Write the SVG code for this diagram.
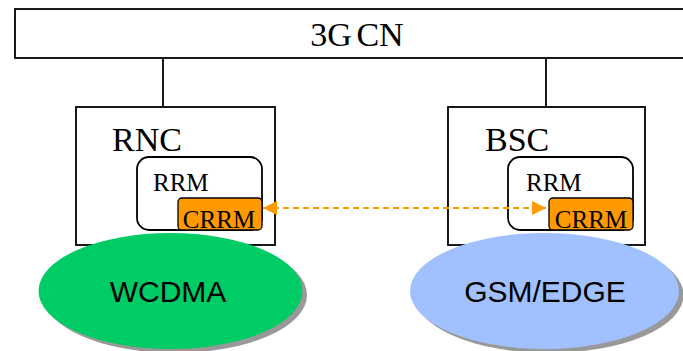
<svg xmlns="http://www.w3.org/2000/svg" width="683" height="351" viewBox="0 0 683 351">
<style>
.box{fill:#fff;stroke:#000;stroke-width:1.8}
.serif{font-family:"Liberation Serif","Times New Roman",serif;fill:#000}
.sans{font-family:"Liberation Sans",Arial,sans-serif;fill:#000}
.crrm{fill:#FF9900;stroke:#000;stroke-width:1.3}
.link{stroke:#000;stroke-width:1.8;fill:none}
.shadow{fill:#999}
</style>
<defs>
<marker id="ah" viewBox="0 0 10 10" refX="10" refY="5" markerWidth="16" markerHeight="14" markerUnits="userSpaceOnUse" orient="auto-start-reverse">
<path d="M0,0 L10,5 L0,10 Z" fill="#FF9900"/>
</marker>
</defs>
<g id="cn">
<rect class="box" x="15" y="9" width="680" height="49"/>
<text class="serif" x="357" y="46" font-size="34" text-anchor="middle" word-spacing="-4">3G CN</text>
</g>
<g id="connectors">
<line class="link" x1="163" y1="58" x2="163" y2="107"/>
<line class="link" x1="546" y1="58" x2="546" y2="107"/>
</g>
<g id="rnc">
<rect class="box" x="76" y="107" width="199" height="138"/>
<text class="serif" x="112" y="151" font-size="34">RNC</text>
<rect class="box" x="137" y="157" width="125" height="73" rx="12"/>
<text class="serif" x="153" y="191" font-size="25">RRM</text>
</g>
<g id="rnc-crrm">
<rect class="crrm" x="178" y="198" width="84" height="32" rx="4"/>
<text class="serif" x="219" y="228" font-size="25" text-anchor="middle">CRRM</text>
</g>
<g id="bsc">
<rect class="box" x="448" y="107" width="197" height="138"/>
<text class="serif" x="485" y="151" font-size="34">BSC</text>
<rect class="box" x="508" y="157" width="125" height="73" rx="12"/>
<text class="serif" x="526" y="191" font-size="25">RRM</text>
</g>
<g id="bsc-crrm">
<rect class="crrm" x="549" y="198" width="84" height="32" rx="4"/>
<text class="serif" x="591" y="228" font-size="25" text-anchor="middle">CRRM</text>
</g>
<g id="arrows">
<line x1="263" y1="208" x2="546" y2="208" stroke="#FF9900" stroke-width="2" stroke-dasharray="6,4" marker-start="url(#ah)" marker-end="url(#ah)"/>
</g>
<g id="wcdma">
<ellipse class="shadow" cx="175" cy="295" rx="132" ry="58"/>
<ellipse cx="170.5" cy="291" rx="132" ry="58" fill="#00CC66"/>
<text class="sans" x="168" y="302" font-size="30" text-anchor="middle">WCDMA</text>
</g>
<g id="gsm">
<ellipse class="shadow" cx="549" cy="295" rx="134.5" ry="58"/>
<ellipse cx="544.5" cy="291" rx="134.5" ry="58" fill="#A0C0FF"/>
<text class="sans" x="545" y="302" font-size="30" text-anchor="middle">GSM/EDGE</text>
</g>
</svg>
